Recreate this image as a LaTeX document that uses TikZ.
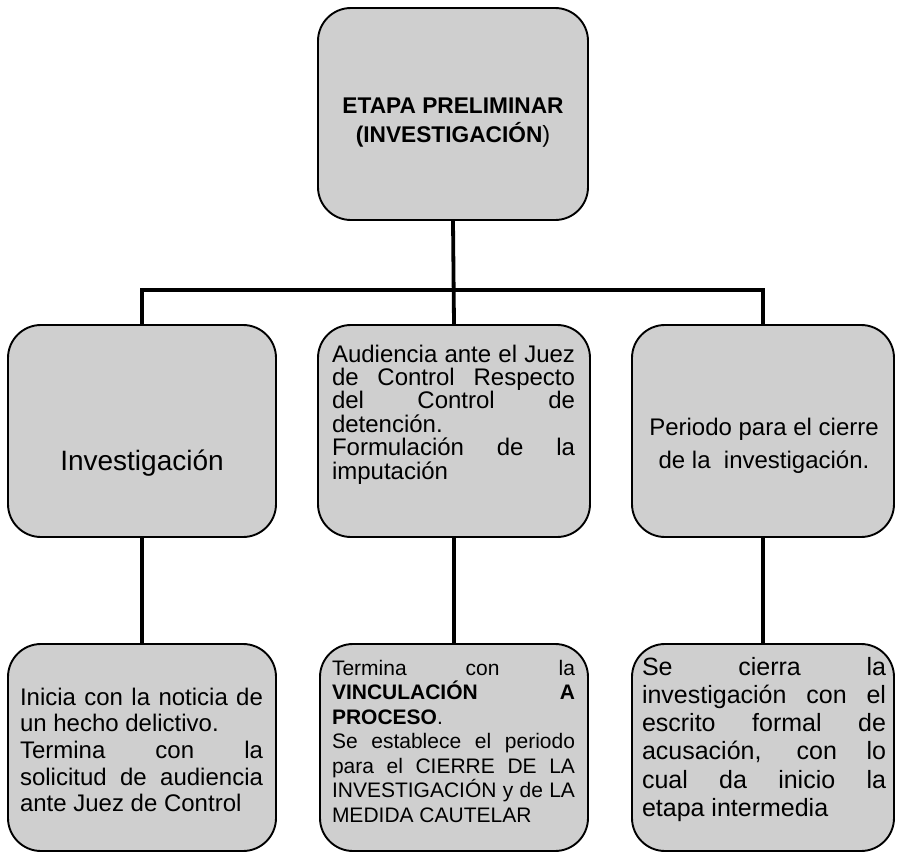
\documentclass[tikz,border=0pt]{standalone}
\usepackage{fontspec}
\setmainfont{Liberation Sans}
\definecolor{boxgray}{RGB}{207,207,207}

% text blocks: a \vtop whose baseline is that of its first line
\newcommand\tblock[4]{\vtop{\hsize=#1\fontsize{#2}{#3}\selectfont\parindent=0pt #4}}
\newcommand\jln[1]{\hbox to\hsize{#1}}          % justified line
\newcommand\lastln[1]{\hbox to\hsize{#1\hfil}}  % last line of a paragraph
\newcommand\ctrln[1]{\hbox to\hsize{\hfil#1\hfil}} % centred line

\begin{document}
\begin{tikzpicture}[x=1bp,y=-1bp,
  box/.style={draw=black, line width=1.9bp, fill=boxgray, rounded corners=33bp,
              inner sep=0pt, minimum width=#1},
  conn/.style={line width=3.8bp, line join=miter},
  txt/.style={inner sep=0pt, outer sep=0pt, anchor=base west}]

\fill[white] (0,0) rectangle (897,855);
\useasboundingbox (0,0) rectangle (897,855);

% boxes
\node[box=270bp, minimum height=212bp] (top) at (453,114) {};
\node[box=268bp, minimum height=212bp] (mL) at (142,431) {};
\node[box=272bp, minimum height=212bp] (mC) at (454,431) {};
\node[box=262bp, minimum height=212bp] (mR) at (763,431) {};
\node[box=268bp, minimum height=207bp] (bL) at (142,747.5) {};
\node[box=268bp, minimum height=207bp] (bC) at (454,747.5) {};
\node[box=262bp, minimum height=207bp] (bR) at (763,747.5) {};

% connectors
\coordinate (bus) at (453,290);
\draw[conn] (top.south) -- (mC.north);
\draw[conn] (mL.north) -- (mL.north |- bus) -- (mR.north |- bus) -- (mR.north);
\draw[conn] (mL.south) -- (bL.north);
\draw[conn] (mC.south) -- (bC.north);
\draw[conn] (mR.south) -- (bR.north);

% texts
\node[txt] (tTop) at (328,113) {\tblock{250bp}{22.7bp}{29bp}{%
  \ctrln{\bfseries ETAPA PRELIMINAR}%
  \ctrln{\textbf{(INVESTIGACIÓN}{\fontsize{23.5bp}{29bp}\selectfont)}}}};

\node[txt] (tmL) at (8,470) {\tblock{268bp}{28bp}{30bp}{%
  \ctrln{Investigación}}};

\node[txt] (tmC) at (332,362) {\tblock{243bp}{24bp}{23.4bp}{%
  \jln{Audiencia ante el Juez}%
  \jln{de Control Respecto}%
  \jln{del Control de}%
  \lastln{detención.}%
  \jln{Formulación de la}%
  \lastln{imputación}}};

\node[txt] (tmR) at (639,435) {\tblock{250bp}{24bp}{33bp}{%
  \ctrln{Periodo para el cierre}%
  \ctrln{de la\ \ investigación.}}};

\node[txt] (tbL) at (20,705) {\tblock{243bp}{24bp}{26.7bp}{%
  \jln{Inicia con la noticia de}%
  \lastln{un hecho delictivo.}%
  \jln{Termina con la}%
  \jln{solicitud de audiencia}%
  \lastln{ante Juez de Control}}};

\node[txt] (tbC) at (332,675) {\tblock{243bp}{21bp}{24.5bp}{%
  \jln{Termina con la}%
  \jln{\textbf{VINCULACIÓN} \textbf{A}}%
  \lastln{\textbf{PROCESO}.}%
  \jln{Se establece el periodo}%
  \jln{para el CIERRE DE LA}%
  \jln{INVESTIGACIÓN y de LA}%
  \lastln{MEDIDA CAUTELAR}}};

\node[txt] (tbR) at (642,675) {\tblock{244bp}{25bp}{28.3bp}{%
  \jln{Se cierra la}%
  \jln{investigación con el}%
  \jln{escrito formal de}%
  \jln{acusación, con lo}%
  \jln{cual da inicio la}%
  \lastln{etapa intermedia}}};

\end{tikzpicture}
\end{document}
